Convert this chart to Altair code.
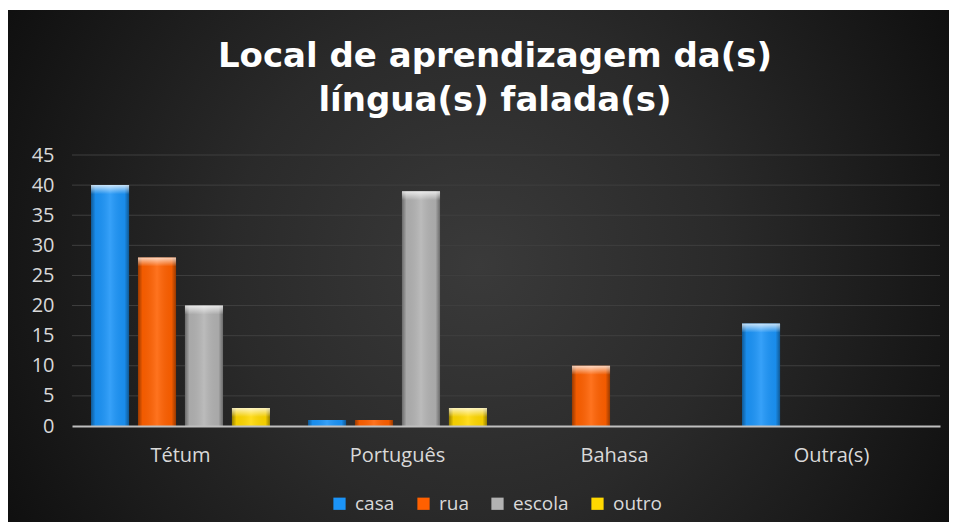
import altair as alt
import pandas as pd

categories = ["Tétum", "Português", "Bahasa", "Outra(s)"]
series = ["casa", "rua", "escola", "outro"]
casa = [40, 1, 0, 17]
rua = [28, 1, 10, 0]
escola = [20, 39, 0, 0]
outro = [3, 3, 0, 0]
colors = ["#1b94f8", "#ff6000", "#b2b2b2", "#ffd800"]
y_ticks = [0, 5, 10, 15, 20, 25, 30, 35, 40, 45]
title_lines = ["Local de aprendizagem da(s)", "língua(s) falada(s)"]

rows = []
for s, vals in zip(series, [casa, rua, escola, outro]):
    for c, v in zip(categories, vals):
        rows.append({"categoria": c, "local": s, "value": v})
df = pd.DataFrame(rows)

W, H = 868, 271
PL, PT, PR, PB = 64, 147, 9, 96

FONT = "Open Sans"
LABEL = "#d9d9d9"

yenc = alt.Y("value:Q", scale=alt.Scale(domain=[0, 45], nice=False),
             axis=alt.Axis(values=y_ticks, grid=False, domain=False, ticks=False,
                           title=None, labelFont=FONT, labelFontSize=20,
                           labelColor=LABEL, labelPadding=18, zindex=1,
                           labelOverlap=False))

bg = alt.Chart(pd.DataFrame({"k": [0]})).mark_rect(
    fill={
        "gradient": "radial",
        "x1": 0.5, "y1": 0.5, "r1": 0,
        "x2": 0.5, "y2": 0.5, "r2": 0.75,
        "stops": [
            {"offset": 0, "color": "#3a3a3a"},
            {"offset": 0.35, "color": "#2a2a2a"},
            {"offset": 1, "color": "#000000"},
        ],
    }
).encode(
    x=alt.value(-PL), x2=alt.value(W + PR),
    y=alt.value(-PT + 2), y2=alt.value(H + PB),
)

title = alt.Chart(pd.DataFrame({"k": [0]})).mark_text(
    text=title_lines, font="DejaVu Sans", fontSize=34, fontWeight="bold",
    color="#ffffff", align="center", baseline="alphabetic", lineHeight=44,
).encode(x=alt.value(W / 2 - 11), y=alt.value(-88))

grid = alt.Chart(pd.DataFrame({"value": y_ticks[1:]})).mark_rule(
    color="#3f3f3f", strokeWidth=1
).encode(y=yenc, x=alt.value(0), x2=alt.value(W))

xenc = alt.X("categoria:N", sort=categories,
             scale=alt.Scale(paddingInner=0.134, paddingOuter=0.067),
             axis=alt.Axis(title=None, labelAngle=0, ticks=False, grid=False,
                           domainColor="#bfbfbf", domainWidth=2,
                           labelFont=FONT, labelFontSize=20, labelColor=LABEL,
                           labelPadding=19, zindex=1))
xoff = alt.XOffset("local:N", sort=series,
                   scale=alt.Scale(domain=series, paddingInner=0.19, paddingOuter=0.095))

bars = alt.Chart(df).mark_bar().encode(
    x=xenc, xOffset=xoff,
    y=yenc,
    color=alt.Color("local:N", sort=series,
                    scale=alt.Scale(domain=series, range=colors),
                    legend=alt.Legend(title=None, orient="none", direction="horizontal",
                                      legendX=258, legendY=339,
                                      symbolType="square", symbolSize=150,
                                      symbolStrokeWidth=0,
                                      labelFont=FONT, labelFontSize=19,
                                      labelColor=LABEL, columnPadding=19,
                                      labelOffset=6, padding=0)),
)

shade = alt.Chart(df).mark_bar(
    fill={
        "gradient": "linear", "x1": 0, "y1": 0, "x2": 1, "y2": 0,
        "stops": [
            {"offset": 0, "color": "rgba(0,0,0,0.4)"},
            {"offset": 0.12, "color": "rgba(0,0,0,0.05)"},
            {"offset": 0.5, "color": "rgba(255,255,255,0.12)"},
            {"offset": 0.88, "color": "rgba(0,0,0,0.05)"},
            {"offset": 1, "color": "rgba(0,0,0,0.4)"},
        ],
    }
).encode(x=xenc, xOffset=xoff, y=yenc)

bevel = alt.Chart(df).transform_filter("datum.value >= 2").mark_bar(
    y2Offset=9,
    fill={
        "gradient": "linear", "x1": 0, "y1": 0, "x2": 0, "y2": 1,
        "stops": [
            {"offset": 0, "color": "rgba(255,255,255,0.75)"},
            {"offset": 1, "color": "rgba(255,255,255,0.0)"},
        ],
    }
).encode(x=xenc, xOffset=xoff, y=yenc, y2=alt.Y2("value"))

chart = alt.layer(bg, title, grid, bars, shade, bevel).properties(
    width=W, height=H,
    padding={"left": PL, "top": PT, "right": PR, "bottom": PB},
    autosize=alt.AutoSizeParams(type="none"),
    background="#ffffff",
).configure_view(stroke=None)

chart.save("out.html", embed_options={"renderer": "svg", "actions": False})
